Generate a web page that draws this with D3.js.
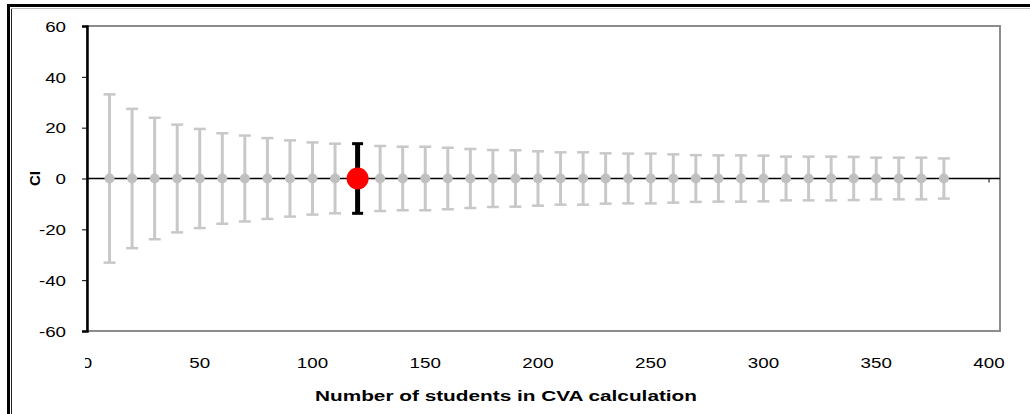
<!DOCTYPE html>
<html>
<head>
<meta charset="utf-8">
<script src="https://cdn.jsdelivr.net/npm/d3@7"></script>
<style>
  html, body { margin: 0; padding: 0; background: #ffffff; }
  svg { display: block; }
  text { font-family: "Liberation Sans", Arial, sans-serif; fill: #000; }
</style>
</head>
<body>
<script>
// ---- data ----
const students = [10,20,30,40,50,60,70,80,90,100,110,120,130,140,150,160,170,180,190,200,
                  210,220,230,240,250,260,270,280,290,300,310,320,330,340,350,360,370,380];
const ciMean = students.map(() => 0);
const ciHalfWidth = [33.1,27.4,23.9,21.2,19.5,17.8,16.9,15.9,15.0,14.2,13.7,13.7,12.8,12.5,12.5,12.1,11.6,11.2,11.1,10.7,
                     10.3,10.3,9.9,9.8,9.8,9.5,9.2,9.1,9.1,9.0,8.6,8.6,8.6,8.5,8.2,8.2,8.2,7.9];
const highlightStudents = 120;
const yTicks = [-60,-40,-20,0,20,40,60];
const xTicks = [0,50,100,150,200,250,300,350,400];
const xTitle = "Number of students in CVA calculation";
const yTitle = "CI";

// ---- layout ----
const W = 1030, H = 414;
const svg = d3.select("body").append("svg").attr("width", W).attr("height", H);

const x = d3.scaleLinear().domain([0, 400]).range([87, 989]);
const y = d3.scaleLinear().domain([-60, 60]).range([331, 26]);
const plotRight = 1000;

function stretch(sel, k) {
  sel.each(function() {
    const len = this.getComputedTextLength();
    d3.select(this).attr("textLength", len * k).attr("lengthAdjust", "spacingAndGlyphs");
  });
}

// outer frame (cropped chart border)
svg.append("line").attr("x1", 7).attr("x2", W).attr("y1", 5.5).attr("y2", 5.5)
  .attr("stroke", "#000").attr("stroke-width", 3);
svg.append("line").attr("x1", 8.5).attr("x2", 8.5).attr("y1", 4).attr("y2", H)
  .attr("stroke", "#000").attr("stroke-width", 3);
svg.append("line").attr("x1", 11.5).attr("x2", 11.5).attr("y1", 8).attr("y2", H)
  .attr("stroke", "#222").attr("stroke-width", 1);
svg.append("line").attr("x1", 11).attr("x2", W).attr("y1", 8.5).attr("y2", 8.5)
  .attr("stroke", "#bbb").attr("stroke-width", 1);

// plot area border (grey)
svg.append("rect")
  .attr("x", x(0)).attr("y", y(60))
  .attr("width", plotRight - x(0)).attr("height", y(-60) - y(60))
  .attr("fill", "none").attr("stroke", "#8c8c8c").attr("stroke-width", 2);

// y axis
const yAxis = svg.append("g").attr("transform", `translate(${x(0)},0)`)
  .call(d3.axisLeft(y).tickValues(yTicks).tickSize(5).tickPadding(16).tickFormat(d => String(d)));
yAxis.select(".domain").attr("stroke", "#000").attr("stroke-width", 2.5);
yAxis.selectAll(".tick line").attr("stroke", "#000").attr("stroke-width", 1);
yAxis.selectAll(".tick text").attr("font-size", 15).attr("dy", "0.35em")
  .style("font-family", '"Liberation Sans", Arial, sans-serif').attr("fill", "#111")
  .call(stretch, 1.25);

// zero line (x axis crossing at 0)
svg.append("line").attr("x1", x(0)).attr("x2", plotRight).attr("y1", y(0)).attr("y2", y(0))
  .attr("stroke", "#000").attr("stroke-width", 1.3);
svg.append("g").selectAll("line").data(xTicks.filter(d => d > 0)).join("line")
  .attr("x1", d => x(d)).attr("x2", d => x(d))
  .attr("y1", y(0)).attr("y2", y(0) + 4)
  .attr("stroke", "#000").attr("stroke-width", 1);

// x tick labels (low position) with left clip
svg.append("clipPath").attr("id", "xlabClip").append("rect")
  .attr("x", 85).attr("y", 340).attr("width", 945).attr("height", 40);
svg.append("g").attr("clip-path", "url(#xlabClip)")
  .selectAll("text").data(xTicks).join("text")
  .attr("x", d => x(d)).attr("y", 368)
  .attr("text-anchor", "middle").attr("font-size", 15).attr("fill", "#111")
  .text(d => String(d))
  .call(stretch, 1.25);

// error bars
const pts = students.map((s, i) => ({ s, m: ciMean[i], e: ciHalfWidth[i], hi: s === highlightStudents }));
const bars = svg.append("g");
pts.forEach(p => {
  const col = p.hi ? "#000" : "#c8c8c8";
  const w = p.hi ? 5 : 3;
  const cap = p.hi ? 5.5 : 6;
  const g = bars.append("g");
  g.append("line").attr("x1", x(p.s)).attr("x2", x(p.s))
    .attr("y1", y(p.m + p.e)).attr("y2", y(p.m - p.e))
    .attr("stroke", col).attr("stroke-width", w);
  [p.m + p.e, p.m - p.e].forEach(v => {
    g.append("line").attr("x1", x(p.s) - cap).attr("x2", x(p.s) + cap)
      .attr("y1", y(v)).attr("y2", y(v))
      .attr("stroke", col).attr("stroke-width", p.hi ? 3 : 2.5);
  });
});

// markers
svg.append("g").selectAll("circle").data(pts).join("circle")
  .attr("cx", d => x(d.s)).attr("cy", d => y(d.m))
  .attr("r", d => d.hi ? 11 : 5)
  .attr("fill", d => d.hi ? "#ff0000" : "#c0c0c0");

// axis titles
svg.append("text").attr("x", 506).attr("y", 401)
  .attr("text-anchor", "middle").attr("font-size", 14).attr("font-weight", "bold")
  .attr("textLength", 382).attr("lengthAdjust", "spacingAndGlyphs")
  .text(xTitle);
svg.append("text").attr("transform", `translate(40,${y(0)}) rotate(-90)`)
  .attr("text-anchor", "middle").attr("font-size", 15).attr("font-weight", "bold")
  .text(yTitle);
</script>
</body>
</html>
